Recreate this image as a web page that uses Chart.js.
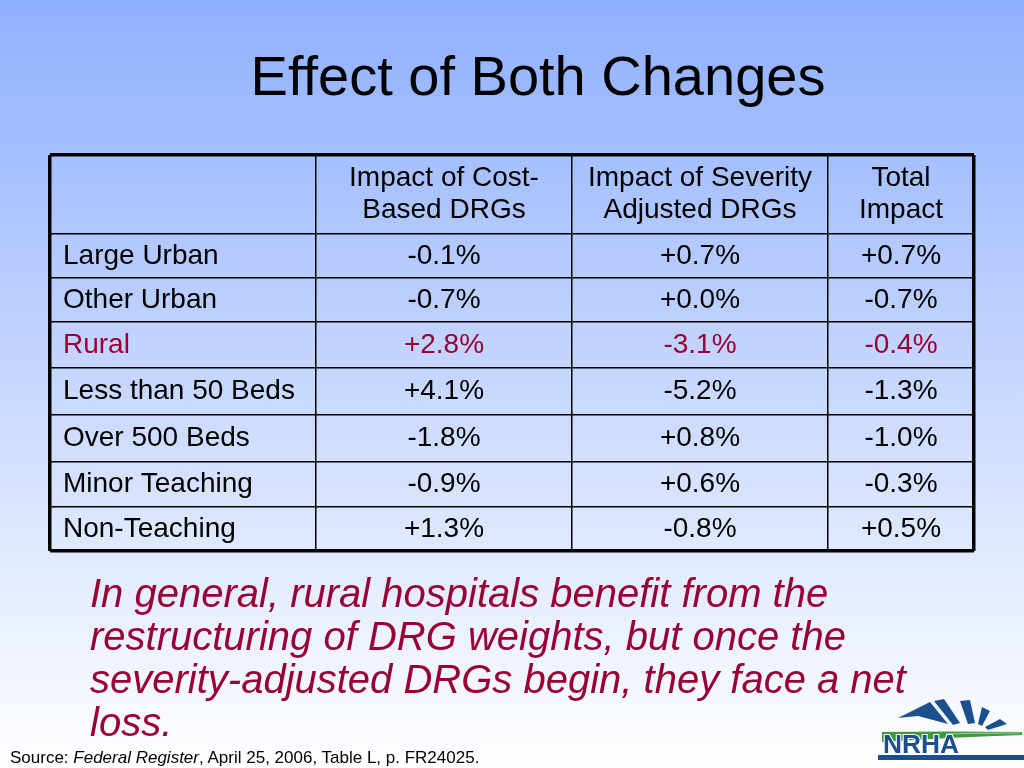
<!DOCTYPE html>
<html>
<head>
<meta charset="utf-8">
<script src="https://cdn.jsdelivr.net/npm/chart.js@4.4.1/dist/chart.umd.min.js"></script>
<style>
html,body{margin:0;padding:0;}
body{width:1024px;height:768px;position:relative;overflow:hidden;background:linear-gradient(to bottom,#8fb0ff 0%,#ffffff 100%);font-family:"Liberation Sans",Arial,sans-serif;}
#tabla{position:absolute;left:0;top:0;}
#titulo{position:absolute;left:0;width:1076px;top:48px;text-align:center;font-size:56px;line-height:56px;color:#000;}
#nota{position:absolute;left:90px;top:572px;width:860px;font-size:40px;line-height:43px;font-style:italic;color:#990033;}
#fuente{position:absolute;left:10px;top:749px;font-size:17px;line-height:17px;color:#000;white-space:nowrap;}
#logo{position:absolute;left:876px;top:695px;}
</style>
</head>
<body>
<div id="titulo">Effect of Both Changes</div>
<canvas id="tabla" width="1024" height="768"></canvas>
<div id="nota">In general, rural hospitals benefit from the restructuring of DRG weights, but once the severity-adjusted DRGs begin, they face a net loss.</div>
<div id="fuente">Source: <i>Federal Register</i>, April 25, 2006, Table L, p. FR24025.</div>
<svg id="logo" width="148" height="70" viewBox="0 0 148 70">
  <polygon points="22,23 54,7 72,29 42,21" fill="#1d4f8c"/>
  <polygon points="58,6 68,4 84,28 77,30" fill="#1d4f8c"/>
  <polygon points="84,6 94,5 99,28 92,29" fill="#1d4f8c"/>
  <polygon points="106,12 114,16 106,31 102,29" fill="#1d4f8c"/>
  <polygon points="124,24 131,29 112,35 109,32" fill="#1d4f8c"/>
  <path d="M6,37 Q70,36 146,37 L146,40 Q80,42 6,47 Z" fill="#3f9a3f"/>
  <path d="M70,39 Q110,38 144,38" stroke="#9ad49a" stroke-width="1.2" fill="none"/>
  <text x="7" y="58" textLength="76" lengthAdjust="spacingAndGlyphs" style="font: bold 25px 'Liberation Sans', Arial, sans-serif; paint-order: stroke;" fill="#1d4f8c" stroke="#ffffff" stroke-width="2">NRHA</text>
  <rect x="2" y="60" width="146" height="5" fill="#1d4f8c"/>
</svg>
<script>
const filas = ["Large Urban", "Other Urban", "Rural", "Less than 50 Beds", "Over 500 Beds", "Minor Teaching", "Non-Teaching"];
const encabezados = [["Impact of Cost-", "Based DRGs"], ["Impact of Severity", "Adjusted DRGs"], ["Total", "Impact"]];
const costoBase = [-0.1, -0.7, 2.8, 4.1, -1.8, -0.9, 1.3];
const severidad = [0.7, 0.0, -3.1, -5.2, 0.8, 0.6, -0.8];
const totalImpacto = [0.7, -0.7, -0.4, -1.3, -1.0, -0.3, 0.5];
const filaResaltada = "Rural";

// bordes de columnas y filas (en unidades de las escalas)
const bordesCol = [0, 266, 522, 778, 924];
const bordesFila = [0, 79, 123, 167, 213, 260, 307, 352, 396];

const fuenteTabla = '28px "Liberation Sans", Arial, sans-serif';

function centro(bordes, i){
  return (bordes[i] + bordes[i + 1]) / 2;
}

function formato(v){
  return (v >= 0 ? "+" : "") + v.toFixed(1) + "%";
}

const series = [costoBase, severidad, totalImpacto];

const datasets = series.map((serie, k) => ({
  label: encabezados[k].join(" "),
  data: serie.map((v, i) => ({ x: centro(bordesCol, k + 1), y: centro(bordesFila, i + 1), v })),
  pointRadius: 0
}));

const textoCeldas = {
  id: "textoCeldas",
  afterDatasetsDraw(chart){
    const ctx = chart.ctx;
    const ex = chart.scales.x;
    const ey = chart.scales.y;
    ctx.save();
    ctx.font = fuenteTabla;
    ctx.textBaseline = "middle";

    ctx.textAlign = "center";
    ctx.fillStyle = "#000";
    encabezados.forEach((lineas, k) => {
      const cx = ex.getPixelForValue(centro(bordesCol, k + 1));
      const cy = ey.getPixelForValue(centro(bordesFila, 0));
      lineas.forEach((t, j) => {
        ctx.fillText(t, cx, cy + (j - (lineas.length - 1) / 2) * 32);
      });
    });

    chart.data.datasets.forEach((ds, k) => {
      const meta = chart.getDatasetMeta(k);
      meta.data.forEach((pt, i) => {
        ctx.fillStyle = filas[i] === filaResaltada ? "#990033" : "#000";
        ctx.textAlign = "center";
        ctx.fillText(formato(ds.data[i].v), pt.x, pt.y);
        if(k === 0){
          ctx.textAlign = "left";
          ctx.fillText(filas[i], ex.getPixelForValue(bordesCol[0]) + 13, pt.y);
        }
      });
    });
    ctx.restore();
  }
};

function grosor(ctx, n){
  return (ctx.index === 0 || ctx.index === n - 1) ? 3.5 : 1.5;
}

new Chart(document.getElementById("tabla"), {
  type: "scatter",
  data: { datasets },
  options: {
    responsive: false,
    animation: false,
    events: [],
    layout: { padding: { left: 50, right: 50, top: 155, bottom: 217 } },
    plugins: { legend: { display: false }, tooltip: { enabled: false }, title: { display: false } },
    scales: {
      x: {
        type: "linear",
        min: bordesCol[0],
        max: bordesCol[bordesCol.length - 1],
        afterBuildTicks: axis => { axis.ticks = bordesCol.map(v => ({ value: v })); },
        ticks: { display: false },
        border: { display: false },
        grid: { color: "#000", drawTicks: false, lineWidth: ctx => grosor(ctx, bordesCol.length) }
      },
      y: {
        type: "linear",
        reverse: true,
        min: bordesFila[0],
        max: bordesFila[bordesFila.length - 1],
        afterBuildTicks: axis => { axis.ticks = bordesFila.map(v => ({ value: v })); },
        ticks: { display: false },
        border: { display: false },
        grid: { color: "#000", drawTicks: false, lineWidth: ctx => grosor(ctx, bordesFila.length) }
      }
    }
  },
  plugins: [textoCeldas]
});
</script>
</body>
</html>
